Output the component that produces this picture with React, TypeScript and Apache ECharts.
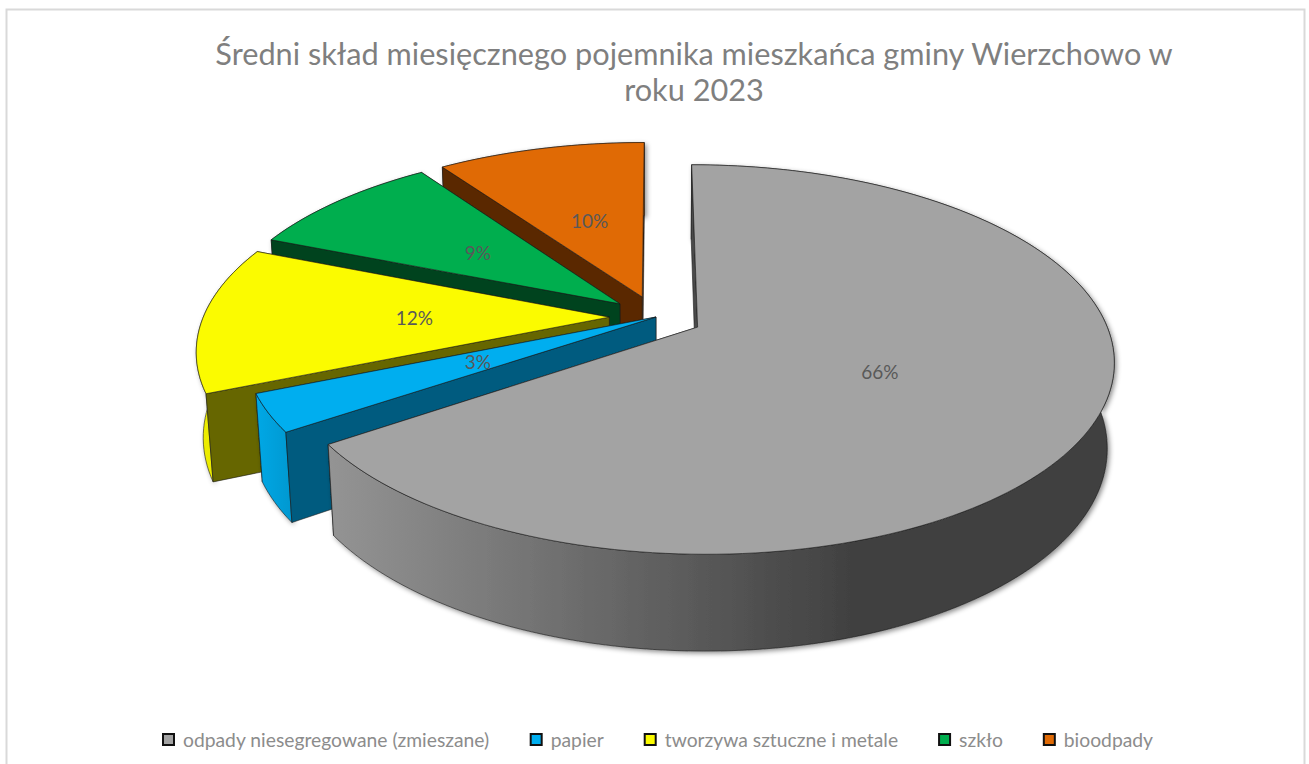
import React, { useEffect, useRef } from "react";
import * as echarts from "echarts";

const titleLines = ["Średni skład miesięcznego pojemnika mieszkańca gminy Wierzchowo w", "roku 2023"];
const categories = ["odpady niesegregowane (zmieszane)", "papier", "tworzywa sztuczne i metale", "szkło", "bioodpady"];
const values = [65.5, 3.2, 12.4, 9.2, 9.7];
const explosions = [0.115, 0, 0.115, 0.115, 0.115];
const topColors = ["#A3A3A3", "#00AEEF", "#FBFB00", "#00AE4E", "#E06A05"];
const wallColors = ["#4a4a4a", "#005B7F", "#666600", "#00431E", "#5A2800"];
const outerFrom = ["#949494", "#00A8E6", "#F0F000", "#009044", "#C05A04"];
const outerTo = ["#3F3F3F", "#0098D0", "#D8D800", "#007A3A", "#A04C03"];

const P = { cx: 656, cy: 317, A: 406, B: 186, k: 0.165, H: 85, m: 0.015, startDeg: 0, labelR: 0.48 };

function project(X: number, Y: number, level: number): number[] {
  const w = 1 + P.k * Y + P.m * level;
  return [P.cx + (P.A * X) / w, P.cy - (P.B * Y) / w + (P.H * level) / w];
}

function renderSlice(index: number) {
  return (_params: any, api: any) => {
    const total = values.reduce((a, b) => a + b, 0);
    const before = values.slice(0, index).reduce((a, b) => a + b, 0);
    const value = api.value(0);
    const toRad = Math.PI / 180;
    const a0 = (P.startDeg + (before / total) * 360) * toRad;
    const a1 = a0 + (value / total) * 360 * toRad;
    const mid = (a0 + a1) / 2;
    const ox = explosions[index] * Math.sin(mid);
    const oy = explosions[index] * Math.cos(mid);
    const steps = Math.max(4, Math.round(((a1 - a0) / toRad) / 1.5));
    const arc = (level: number) => {
      const pts: number[][] = [];
      for (let i = 0; i <= steps; i++) {
        const t = a0 + ((a1 - a0) * i) / steps;
        pts.push(project(ox + Math.sin(t), oy + Math.cos(t), level));
      }
      return pts;
    };
    const top = arc(0);
    const bot = arc(1);
    const apexT = project(ox, oy, 0);
    const apexB = project(ox, oy, 1);
    const edge = { stroke: "rgba(25,25,25,0.85)", lineWidth: 0.7 };
    const labelPos = project(ox + P.labelR * Math.sin(mid), oy + P.labelR * Math.cos(mid), 0);
    const children: any[] = [
      {
        type: "polygon",
        shape: { points: [apexT, top[steps], bot[steps], apexB] },
        style: { fill: wallColors[index], ...edge },
      },
      {
        type: "polygon",
        shape: { points: [...top, ...bot.slice().reverse()] },
        style: {
          fill: new echarts.graphic.LinearGradient(0, 0, 1, 0, [
            { offset: 0, color: outerFrom[index] },
            { offset: index === 0 ? 0.68 : 1, color: outerTo[index] },
            { offset: 1, color: outerTo[index] },
          ]),
          ...edge,
          shadowBlur: 5,
          shadowOffsetX: 2,
          shadowOffsetY: 2,
          shadowColor: "rgba(0,0,0,0.45)",
        },
      },
      {
        type: "polygon",
        shape: { points: [apexT, top[0], bot[0], apexB] },
        style: { fill: wallColors[index], ...edge },
      },
      {
        type: "polygon",
        shape: { points: [apexT, ...top] },
        style: { fill: topColors[index], ...edge },
      },
      {
        type: "text",
        style: {
          text: `${Math.round(value)}%`,
          x: labelPos[0],
          y: labelPos[1],
          align: "center",
          verticalAlign: "middle",
          fill: "#595959",
          font: "19px Lato",
        },
      },
    ];
    return { type: "group", children };
  };
}

// Paint order: back slices first, the large grey slice last.
const paintOrder = [4, 3, 2, 1, 0];

export default function App() {
  const ref = useRef<HTMLDivElement>(null);
  useEffect(() => {
    document.body.style.margin = "0";
    document.body.style.background = "#ffffff";
    const chart = echarts.init(ref.current!, undefined, { renderer: "svg" });
    chart.setOption({
      animation: false,
      backgroundColor: "#ffffff",
      title: {
        text: titleLines.join("\n"),
        left: 689,
        top: 30,
        textAlign: "center",
        textStyle: { fontFamily: "Lato", fontWeight: "normal", fontSize: 30.7, lineHeight: 36, color: "#7F7F7F" },
      },
      legend: {
        data: categories.map((name, i) => ({ name, itemStyle: { color: topColors[i], borderColor: "#111111", borderWidth: 2 } })),
        left: 157,
        top: 725,
        icon: "rect",
        itemWidth: 11,
        itemHeight: 11,
        itemGap: 40,
        selectedMode: false,
        textStyle: { fontFamily: "Lato", fontSize: 19.3, color: "#8C8C8C", padding: [0, 0, 0, 4] },
      },
      graphic: [
        {
          type: "rect",
          silent: true,
          z: -1,
          shape: { x: 6.5, y: 9.5, width: 1298, height: 800 },
          style: { fill: "#ffffff", stroke: "#D9D9D9", lineWidth: 2 },
        },
      ],
      series: categories.map((name, i) => ({
        type: "custom",
        name,
        coordinateSystem: "none",
        z: 2 + paintOrder[i],
        itemStyle: { color: topColors[i] },
        silent: true,
        data: [[values[i]]],
        renderItem: renderSlice(i),
      })),
    });
    return () => chart.dispose();
  }, []);
  return <div ref={ref} style={{ width: 1309, height: 764 }} />;
}
